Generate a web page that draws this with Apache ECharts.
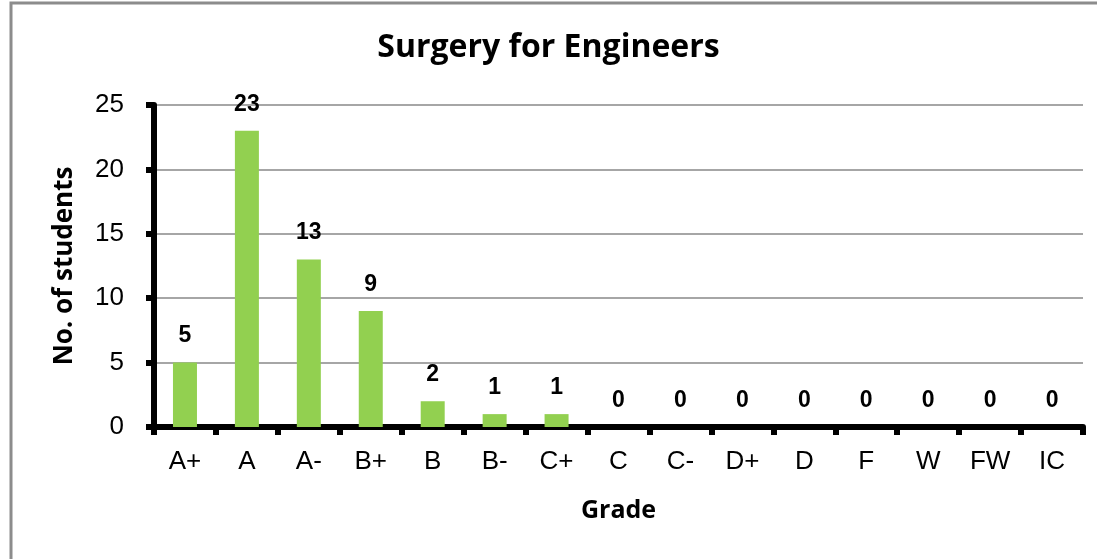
<!DOCTYPE html>
<html>
<head>
<meta charset="utf-8">
<script src="https://cdn.jsdelivr.net/npm/echarts@6/dist/echarts.min.js"></script>
<style>html,body{margin:0;padding:0;background:#fff;}#c{width:1097px;height:559px;}</style>
</head>
<body>
<div id="c"></div>
<script>
const categories = ['A+','A','A-','B+','B','B-','C+','C','C-','D+','D','F','W','FW','IC'];
const students = [5,23,13,9,2,1,1,0,0,0,0,0,0,0,0];
const yTicks = {min:0, max:25, interval:5};

const chart = echarts.init(document.getElementById('c'));
chart.setOption({
  animation:false,
  backgroundColor:'#fff',
  graphic:[{type:'rect',shape:{x:11,y:3,width:1100,height:570},style:{fill:'none',stroke:'#8c8c8c',lineWidth:3},z:-1}],
  title:{text:'Surgery for Engineers',left:'center',top:27,textStyle:{fontFamily:'Open Sans',fontWeight:'bold',fontSize:32,color:'#000'}},
  grid:{left:154,right:14,top:105,bottom:132},
  xAxis:{type:'category',data:categories,name:'Grade',nameLocation:'middle',nameGap:71,
    nameTextStyle:{fontFamily:'Open Sans',fontWeight:'bold',fontSize:25,color:'#000'},
    axisLine:{lineStyle:{color:'#000',width:6}},
    axisTick:{show:true,length:8,lineStyle:{color:'#000',width:6}},
    axisLabel:{fontFamily:'Liberation Sans',fontSize:26,color:'#000',margin:22}},
  yAxis:{type:'value',min:yTicks.min,max:yTicks.max,interval:yTicks.interval,
    name:'No. of students',nameLocation:'middle',nameGap:76,
    nameTextStyle:{fontFamily:'Open Sans',fontWeight:'bold',fontSize:26,color:'#000'},
    axisLine:{show:true,lineStyle:{color:'#000',width:6}},
    axisTick:{show:true,length:8,lineStyle:{color:'#000',width:6}},
    axisLabel:{fontFamily:'Liberation Sans',fontSize:26,color:'#000',margin:30},
    splitLine:{lineStyle:{color:'#888',width:1.5}}},
  series:[{type:'bar',data:students,barWidth:24,itemStyle:{color:'#92D050'},
    label:{show:true,position:'top',distance:15,fontFamily:'Liberation Sans',fontWeight:'bold',fontSize:23,color:'#000'}}]
});
</script>
</body>
</html>
